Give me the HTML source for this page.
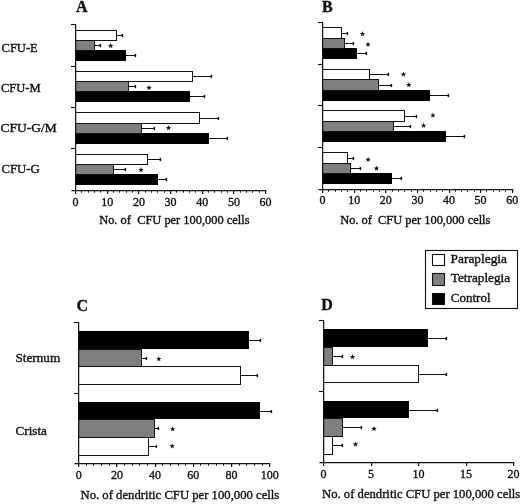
<!DOCTYPE html>
<html><head><meta charset="utf-8"><style>
html,body{margin:0;padding:0;background:#fff;}
body{width:520px;height:504px;overflow:hidden;}
svg{display:block;will-change:transform;}
text{font-family:"Liberation Serif", serif;fill:#111;stroke:#111;stroke-width:0.35px;}
</style></head><body>
<svg width="520" height="504" viewBox="0 0 520 504">
<rect x="0" y="0" width="520" height="504" fill="#fff"/>
<rect x="75.00" y="30.00" width="42.00" height="10.00" fill="#fff"/>
<rect x="75.00" y="40.00" width="20.00" height="10.00" fill="#7f7f7f"/>
<rect x="75.00" y="50.00" width="51.00" height="11.00" fill="#000"/>
<line x1="75.00" y1="30.50" x2="117.00" y2="30.50" stroke="#111" stroke-width="1.0"/>
<line x1="75.00" y1="40.50" x2="117.00" y2="40.50" stroke="#111" stroke-width="1.0"/>
<line x1="116.50" y1="30.00" x2="116.50" y2="41.00" stroke="#111" stroke-width="1.0"/>
<line x1="75.00" y1="40.50" x2="95.00" y2="40.50" stroke="#111" stroke-width="1.0"/>
<line x1="75.00" y1="50.50" x2="95.00" y2="50.50" stroke="#111" stroke-width="1.0"/>
<line x1="94.50" y1="40.00" x2="94.50" y2="51.00" stroke="#111" stroke-width="1.0"/>
<line x1="117.00" y1="35.50" x2="123.00" y2="35.50" stroke="#111" stroke-width="1.0"/>
<line x1="122.40" y1="33.90" x2="122.40" y2="37.10" stroke="#111" stroke-width="1.5"/>
<line x1="95.00" y1="45.50" x2="101.00" y2="45.50" stroke="#111" stroke-width="1.0"/>
<line x1="100.40" y1="43.90" x2="100.40" y2="47.10" stroke="#111" stroke-width="1.5"/>
<line x1="126.00" y1="55.50" x2="136.00" y2="55.50" stroke="#111" stroke-width="1.0"/>
<line x1="135.40" y1="53.90" x2="135.40" y2="57.10" stroke="#111" stroke-width="1.5"/>
<rect x="75.00" y="71.00" width="118.00" height="10.00" fill="#fff"/>
<rect x="75.00" y="81.00" width="54.00" height="10.00" fill="#7f7f7f"/>
<rect x="75.00" y="91.00" width="115.00" height="11.00" fill="#000"/>
<line x1="75.00" y1="71.50" x2="193.00" y2="71.50" stroke="#111" stroke-width="1.0"/>
<line x1="75.00" y1="81.50" x2="193.00" y2="81.50" stroke="#111" stroke-width="1.0"/>
<line x1="192.50" y1="71.00" x2="192.50" y2="82.00" stroke="#111" stroke-width="1.0"/>
<line x1="75.00" y1="81.50" x2="129.00" y2="81.50" stroke="#111" stroke-width="1.0"/>
<line x1="75.00" y1="91.50" x2="129.00" y2="91.50" stroke="#111" stroke-width="1.0"/>
<line x1="128.50" y1="81.00" x2="128.50" y2="92.00" stroke="#111" stroke-width="1.0"/>
<line x1="193.00" y1="76.50" x2="212.00" y2="76.50" stroke="#111" stroke-width="1.0"/>
<line x1="211.40" y1="74.90" x2="211.40" y2="78.10" stroke="#111" stroke-width="1.5"/>
<line x1="129.00" y1="86.50" x2="136.00" y2="86.50" stroke="#111" stroke-width="1.0"/>
<line x1="135.40" y1="84.90" x2="135.40" y2="88.10" stroke="#111" stroke-width="1.5"/>
<line x1="190.00" y1="96.50" x2="205.00" y2="96.50" stroke="#111" stroke-width="1.0"/>
<line x1="204.40" y1="94.90" x2="204.40" y2="98.10" stroke="#111" stroke-width="1.5"/>
<rect x="75.00" y="112.00" width="125.00" height="11.00" fill="#fff"/>
<rect x="75.00" y="123.00" width="67.00" height="10.00" fill="#7f7f7f"/>
<rect x="75.00" y="133.00" width="134.00" height="11.00" fill="#000"/>
<line x1="75.00" y1="112.50" x2="200.00" y2="112.50" stroke="#111" stroke-width="1.0"/>
<line x1="75.00" y1="123.50" x2="200.00" y2="123.50" stroke="#111" stroke-width="1.0"/>
<line x1="199.50" y1="112.00" x2="199.50" y2="124.00" stroke="#111" stroke-width="1.0"/>
<line x1="75.00" y1="123.50" x2="142.00" y2="123.50" stroke="#111" stroke-width="1.0"/>
<line x1="75.00" y1="133.50" x2="142.00" y2="133.50" stroke="#111" stroke-width="1.0"/>
<line x1="141.50" y1="123.00" x2="141.50" y2="134.00" stroke="#111" stroke-width="1.0"/>
<line x1="200.00" y1="118.50" x2="219.00" y2="118.50" stroke="#111" stroke-width="1.0"/>
<line x1="218.40" y1="116.90" x2="218.40" y2="120.10" stroke="#111" stroke-width="1.5"/>
<line x1="142.00" y1="128.50" x2="155.00" y2="128.50" stroke="#111" stroke-width="1.0"/>
<line x1="154.40" y1="126.90" x2="154.40" y2="130.10" stroke="#111" stroke-width="1.5"/>
<line x1="209.00" y1="138.50" x2="228.00" y2="138.50" stroke="#111" stroke-width="1.0"/>
<line x1="227.40" y1="136.90" x2="227.40" y2="140.10" stroke="#111" stroke-width="1.5"/>
<rect x="75.00" y="154.00" width="73.00" height="10.00" fill="#fff"/>
<rect x="75.00" y="164.00" width="39.00" height="10.00" fill="#7f7f7f"/>
<rect x="75.00" y="174.00" width="83.00" height="11.00" fill="#000"/>
<line x1="75.00" y1="154.50" x2="148.00" y2="154.50" stroke="#111" stroke-width="1.0"/>
<line x1="75.00" y1="164.50" x2="148.00" y2="164.50" stroke="#111" stroke-width="1.0"/>
<line x1="147.50" y1="154.00" x2="147.50" y2="165.00" stroke="#111" stroke-width="1.0"/>
<line x1="75.00" y1="164.50" x2="114.00" y2="164.50" stroke="#111" stroke-width="1.0"/>
<line x1="75.00" y1="174.50" x2="114.00" y2="174.50" stroke="#111" stroke-width="1.0"/>
<line x1="113.50" y1="164.00" x2="113.50" y2="175.00" stroke="#111" stroke-width="1.0"/>
<line x1="148.00" y1="159.50" x2="161.00" y2="159.50" stroke="#111" stroke-width="1.0"/>
<line x1="160.40" y1="157.90" x2="160.40" y2="161.10" stroke="#111" stroke-width="1.5"/>
<line x1="114.00" y1="169.50" x2="126.00" y2="169.50" stroke="#111" stroke-width="1.0"/>
<line x1="125.40" y1="167.90" x2="125.40" y2="171.10" stroke="#111" stroke-width="1.5"/>
<line x1="158.00" y1="179.50" x2="167.00" y2="179.50" stroke="#111" stroke-width="1.0"/>
<line x1="166.40" y1="177.90" x2="166.40" y2="181.10" stroke="#111" stroke-width="1.5"/>
<line x1="75.60" y1="24.00" x2="75.60" y2="191.00" stroke="#111" stroke-width="1.25"/>
<line x1="71.00" y1="24.50" x2="75.60" y2="24.50" stroke="#111" stroke-width="1.1"/>
<line x1="71.00" y1="66.50" x2="75.60" y2="66.50" stroke="#111" stroke-width="1.1"/>
<line x1="71.00" y1="107.50" x2="75.60" y2="107.50" stroke="#111" stroke-width="1.1"/>
<line x1="71.00" y1="148.50" x2="75.60" y2="148.50" stroke="#111" stroke-width="1.1"/>
<line x1="71.50" y1="190.50" x2="266.20" y2="190.50" stroke="#111" stroke-width="1.25"/>
<line x1="75.60" y1="190.50" x2="75.60" y2="194.10" stroke="#111" stroke-width="1.2"/>
<line x1="107.60" y1="190.50" x2="107.60" y2="194.10" stroke="#111" stroke-width="1.2"/>
<line x1="138.60" y1="190.50" x2="138.60" y2="194.10" stroke="#111" stroke-width="1.2"/>
<line x1="170.60" y1="190.50" x2="170.60" y2="194.10" stroke="#111" stroke-width="1.2"/>
<line x1="202.60" y1="190.50" x2="202.60" y2="194.10" stroke="#111" stroke-width="1.2"/>
<line x1="233.60" y1="190.50" x2="233.60" y2="194.10" stroke="#111" stroke-width="1.2"/>
<line x1="265.60" y1="190.50" x2="265.60" y2="194.10" stroke="#111" stroke-width="1.2"/>
<line x1="81.50" y1="190.50" x2="81.50" y2="192.70" stroke="#111" stroke-width="1.0"/>
<line x1="88.50" y1="190.50" x2="88.50" y2="192.70" stroke="#111" stroke-width="1.0"/>
<line x1="94.50" y1="190.50" x2="94.50" y2="192.70" stroke="#111" stroke-width="1.0"/>
<line x1="100.50" y1="190.50" x2="100.50" y2="192.70" stroke="#111" stroke-width="1.0"/>
<line x1="113.50" y1="190.50" x2="113.50" y2="192.70" stroke="#111" stroke-width="1.0"/>
<line x1="119.50" y1="190.50" x2="119.50" y2="192.70" stroke="#111" stroke-width="1.0"/>
<line x1="126.50" y1="190.50" x2="126.50" y2="192.70" stroke="#111" stroke-width="1.0"/>
<line x1="132.50" y1="190.50" x2="132.50" y2="192.70" stroke="#111" stroke-width="1.0"/>
<line x1="145.50" y1="190.50" x2="145.50" y2="192.70" stroke="#111" stroke-width="1.0"/>
<line x1="151.50" y1="190.50" x2="151.50" y2="192.70" stroke="#111" stroke-width="1.0"/>
<line x1="157.50" y1="190.50" x2="157.50" y2="192.70" stroke="#111" stroke-width="1.0"/>
<line x1="164.50" y1="190.50" x2="164.50" y2="192.70" stroke="#111" stroke-width="1.0"/>
<line x1="176.50" y1="190.50" x2="176.50" y2="192.70" stroke="#111" stroke-width="1.0"/>
<line x1="183.50" y1="190.50" x2="183.50" y2="192.70" stroke="#111" stroke-width="1.0"/>
<line x1="189.50" y1="190.50" x2="189.50" y2="192.70" stroke="#111" stroke-width="1.0"/>
<line x1="195.50" y1="190.50" x2="195.50" y2="192.70" stroke="#111" stroke-width="1.0"/>
<line x1="208.50" y1="190.50" x2="208.50" y2="192.70" stroke="#111" stroke-width="1.0"/>
<line x1="214.50" y1="190.50" x2="214.50" y2="192.70" stroke="#111" stroke-width="1.0"/>
<line x1="221.50" y1="190.50" x2="221.50" y2="192.70" stroke="#111" stroke-width="1.0"/>
<line x1="227.50" y1="190.50" x2="227.50" y2="192.70" stroke="#111" stroke-width="1.0"/>
<line x1="240.50" y1="190.50" x2="240.50" y2="192.70" stroke="#111" stroke-width="1.0"/>
<line x1="246.50" y1="190.50" x2="246.50" y2="192.70" stroke="#111" stroke-width="1.0"/>
<line x1="252.50" y1="190.50" x2="252.50" y2="192.70" stroke="#111" stroke-width="1.0"/>
<line x1="259.50" y1="190.50" x2="259.50" y2="192.70" stroke="#111" stroke-width="1.0"/>
<rect x="322.00" y="27.00" width="20.00" height="11.00" fill="#fff"/>
<rect x="322.00" y="38.00" width="23.00" height="10.00" fill="#7f7f7f"/>
<rect x="322.00" y="48.00" width="35.00" height="11.00" fill="#000"/>
<line x1="322.00" y1="27.50" x2="342.00" y2="27.50" stroke="#111" stroke-width="1.0"/>
<line x1="322.00" y1="38.50" x2="342.00" y2="38.50" stroke="#111" stroke-width="1.0"/>
<line x1="341.50" y1="27.00" x2="341.50" y2="39.00" stroke="#111" stroke-width="1.0"/>
<line x1="322.00" y1="38.50" x2="345.00" y2="38.50" stroke="#111" stroke-width="1.0"/>
<line x1="322.00" y1="48.50" x2="345.00" y2="48.50" stroke="#111" stroke-width="1.0"/>
<line x1="344.50" y1="38.00" x2="344.50" y2="49.00" stroke="#111" stroke-width="1.0"/>
<line x1="342.00" y1="33.50" x2="348.00" y2="33.50" stroke="#111" stroke-width="1.0"/>
<line x1="347.40" y1="31.90" x2="347.40" y2="35.10" stroke="#111" stroke-width="1.5"/>
<line x1="345.00" y1="43.50" x2="354.00" y2="43.50" stroke="#111" stroke-width="1.0"/>
<line x1="353.40" y1="41.90" x2="353.40" y2="45.10" stroke="#111" stroke-width="1.5"/>
<line x1="357.00" y1="53.50" x2="367.00" y2="53.50" stroke="#111" stroke-width="1.0"/>
<line x1="366.40" y1="51.90" x2="366.40" y2="55.10" stroke="#111" stroke-width="1.5"/>
<rect x="322.00" y="69.00" width="48.00" height="10.00" fill="#fff"/>
<rect x="322.00" y="79.00" width="57.00" height="11.00" fill="#7f7f7f"/>
<rect x="322.00" y="90.00" width="108.00" height="11.00" fill="#000"/>
<line x1="322.00" y1="69.50" x2="370.00" y2="69.50" stroke="#111" stroke-width="1.0"/>
<line x1="322.00" y1="79.50" x2="370.00" y2="79.50" stroke="#111" stroke-width="1.0"/>
<line x1="369.50" y1="69.00" x2="369.50" y2="80.00" stroke="#111" stroke-width="1.0"/>
<line x1="322.00" y1="79.50" x2="379.00" y2="79.50" stroke="#111" stroke-width="1.0"/>
<line x1="322.00" y1="90.50" x2="379.00" y2="90.50" stroke="#111" stroke-width="1.0"/>
<line x1="378.50" y1="79.00" x2="378.50" y2="91.00" stroke="#111" stroke-width="1.0"/>
<line x1="370.00" y1="74.50" x2="389.00" y2="74.50" stroke="#111" stroke-width="1.0"/>
<line x1="388.40" y1="72.90" x2="388.40" y2="76.10" stroke="#111" stroke-width="1.5"/>
<line x1="379.00" y1="85.50" x2="392.00" y2="85.50" stroke="#111" stroke-width="1.0"/>
<line x1="391.40" y1="83.90" x2="391.40" y2="87.10" stroke="#111" stroke-width="1.5"/>
<line x1="430.00" y1="95.50" x2="449.00" y2="95.50" stroke="#111" stroke-width="1.0"/>
<line x1="448.40" y1="93.90" x2="448.40" y2="97.10" stroke="#111" stroke-width="1.5"/>
<rect x="322.00" y="110.00" width="83.00" height="11.00" fill="#fff"/>
<rect x="322.00" y="121.00" width="72.00" height="10.00" fill="#7f7f7f"/>
<rect x="322.00" y="131.00" width="124.00" height="11.00" fill="#000"/>
<line x1="322.00" y1="110.50" x2="405.00" y2="110.50" stroke="#111" stroke-width="1.0"/>
<line x1="322.00" y1="121.50" x2="405.00" y2="121.50" stroke="#111" stroke-width="1.0"/>
<line x1="404.50" y1="110.00" x2="404.50" y2="122.00" stroke="#111" stroke-width="1.0"/>
<line x1="322.00" y1="121.50" x2="394.00" y2="121.50" stroke="#111" stroke-width="1.0"/>
<line x1="322.00" y1="131.50" x2="394.00" y2="131.50" stroke="#111" stroke-width="1.0"/>
<line x1="393.50" y1="121.00" x2="393.50" y2="132.00" stroke="#111" stroke-width="1.0"/>
<line x1="405.00" y1="116.50" x2="417.00" y2="116.50" stroke="#111" stroke-width="1.0"/>
<line x1="416.40" y1="114.90" x2="416.40" y2="118.10" stroke="#111" stroke-width="1.5"/>
<line x1="394.00" y1="126.50" x2="411.00" y2="126.50" stroke="#111" stroke-width="1.0"/>
<line x1="410.40" y1="124.90" x2="410.40" y2="128.10" stroke="#111" stroke-width="1.5"/>
<line x1="446.00" y1="136.50" x2="465.00" y2="136.50" stroke="#111" stroke-width="1.0"/>
<line x1="464.40" y1="134.90" x2="464.40" y2="138.10" stroke="#111" stroke-width="1.5"/>
<rect x="322.00" y="152.00" width="26.00" height="11.00" fill="#fff"/>
<rect x="322.00" y="163.00" width="29.00" height="10.00" fill="#7f7f7f"/>
<rect x="322.00" y="173.00" width="70.00" height="11.00" fill="#000"/>
<line x1="322.00" y1="152.50" x2="348.00" y2="152.50" stroke="#111" stroke-width="1.0"/>
<line x1="322.00" y1="163.50" x2="348.00" y2="163.50" stroke="#111" stroke-width="1.0"/>
<line x1="347.50" y1="152.00" x2="347.50" y2="164.00" stroke="#111" stroke-width="1.0"/>
<line x1="322.00" y1="163.50" x2="351.00" y2="163.50" stroke="#111" stroke-width="1.0"/>
<line x1="322.00" y1="173.50" x2="351.00" y2="173.50" stroke="#111" stroke-width="1.0"/>
<line x1="350.50" y1="163.00" x2="350.50" y2="174.00" stroke="#111" stroke-width="1.0"/>
<line x1="348.00" y1="158.50" x2="354.00" y2="158.50" stroke="#111" stroke-width="1.0"/>
<line x1="353.40" y1="156.90" x2="353.40" y2="160.10" stroke="#111" stroke-width="1.5"/>
<line x1="351.00" y1="168.50" x2="361.00" y2="168.50" stroke="#111" stroke-width="1.0"/>
<line x1="360.40" y1="166.90" x2="360.40" y2="170.10" stroke="#111" stroke-width="1.5"/>
<line x1="392.00" y1="178.50" x2="402.00" y2="178.50" stroke="#111" stroke-width="1.0"/>
<line x1="401.40" y1="176.90" x2="401.40" y2="180.10" stroke="#111" stroke-width="1.5"/>
<line x1="322.60" y1="22.00" x2="322.60" y2="190.00" stroke="#111" stroke-width="1.25"/>
<line x1="318.00" y1="22.50" x2="322.60" y2="22.50" stroke="#111" stroke-width="1.1"/>
<line x1="318.00" y1="64.50" x2="322.60" y2="64.50" stroke="#111" stroke-width="1.1"/>
<line x1="318.00" y1="105.50" x2="322.60" y2="105.50" stroke="#111" stroke-width="1.1"/>
<line x1="318.00" y1="147.50" x2="322.60" y2="147.50" stroke="#111" stroke-width="1.1"/>
<line x1="318.50" y1="189.50" x2="513.20" y2="189.50" stroke="#111" stroke-width="1.25"/>
<line x1="322.60" y1="189.50" x2="322.60" y2="193.10" stroke="#111" stroke-width="1.2"/>
<line x1="354.60" y1="189.50" x2="354.60" y2="193.10" stroke="#111" stroke-width="1.2"/>
<line x1="385.60" y1="189.50" x2="385.60" y2="193.10" stroke="#111" stroke-width="1.2"/>
<line x1="417.60" y1="189.50" x2="417.60" y2="193.10" stroke="#111" stroke-width="1.2"/>
<line x1="449.60" y1="189.50" x2="449.60" y2="193.10" stroke="#111" stroke-width="1.2"/>
<line x1="480.60" y1="189.50" x2="480.60" y2="193.10" stroke="#111" stroke-width="1.2"/>
<line x1="512.60" y1="189.50" x2="512.60" y2="193.10" stroke="#111" stroke-width="1.2"/>
<line x1="328.50" y1="189.50" x2="328.50" y2="191.70" stroke="#111" stroke-width="1.0"/>
<line x1="335.50" y1="189.50" x2="335.50" y2="191.70" stroke="#111" stroke-width="1.0"/>
<line x1="341.50" y1="189.50" x2="341.50" y2="191.70" stroke="#111" stroke-width="1.0"/>
<line x1="347.50" y1="189.50" x2="347.50" y2="191.70" stroke="#111" stroke-width="1.0"/>
<line x1="360.50" y1="189.50" x2="360.50" y2="191.70" stroke="#111" stroke-width="1.0"/>
<line x1="366.50" y1="189.50" x2="366.50" y2="191.70" stroke="#111" stroke-width="1.0"/>
<line x1="373.50" y1="189.50" x2="373.50" y2="191.70" stroke="#111" stroke-width="1.0"/>
<line x1="379.50" y1="189.50" x2="379.50" y2="191.70" stroke="#111" stroke-width="1.0"/>
<line x1="392.50" y1="189.50" x2="392.50" y2="191.70" stroke="#111" stroke-width="1.0"/>
<line x1="398.50" y1="189.50" x2="398.50" y2="191.70" stroke="#111" stroke-width="1.0"/>
<line x1="404.50" y1="189.50" x2="404.50" y2="191.70" stroke="#111" stroke-width="1.0"/>
<line x1="411.50" y1="189.50" x2="411.50" y2="191.70" stroke="#111" stroke-width="1.0"/>
<line x1="423.50" y1="189.50" x2="423.50" y2="191.70" stroke="#111" stroke-width="1.0"/>
<line x1="430.50" y1="189.50" x2="430.50" y2="191.70" stroke="#111" stroke-width="1.0"/>
<line x1="436.50" y1="189.50" x2="436.50" y2="191.70" stroke="#111" stroke-width="1.0"/>
<line x1="442.50" y1="189.50" x2="442.50" y2="191.70" stroke="#111" stroke-width="1.0"/>
<line x1="455.50" y1="189.50" x2="455.50" y2="191.70" stroke="#111" stroke-width="1.0"/>
<line x1="461.50" y1="189.50" x2="461.50" y2="191.70" stroke="#111" stroke-width="1.0"/>
<line x1="467.50" y1="189.50" x2="467.50" y2="191.70" stroke="#111" stroke-width="1.0"/>
<line x1="474.50" y1="189.50" x2="474.50" y2="191.70" stroke="#111" stroke-width="1.0"/>
<line x1="486.50" y1="189.50" x2="486.50" y2="191.70" stroke="#111" stroke-width="1.0"/>
<line x1="493.50" y1="189.50" x2="493.50" y2="191.70" stroke="#111" stroke-width="1.0"/>
<line x1="499.50" y1="189.50" x2="499.50" y2="191.70" stroke="#111" stroke-width="1.0"/>
<line x1="505.50" y1="189.50" x2="505.50" y2="191.70" stroke="#111" stroke-width="1.0"/>
<rect x="78.00" y="331.00" width="171.00" height="18.00" fill="#000"/>
<rect x="78.00" y="349.00" width="64.00" height="17.00" fill="#7f7f7f"/>
<rect x="78.00" y="366.00" width="163.00" height="18.00" fill="#fff"/>
<line x1="78.00" y1="349.50" x2="142.00" y2="349.50" stroke="#111" stroke-width="1.0"/>
<line x1="78.00" y1="366.50" x2="142.00" y2="366.50" stroke="#111" stroke-width="1.0"/>
<line x1="141.50" y1="349.00" x2="141.50" y2="367.00" stroke="#111" stroke-width="1.0"/>
<line x1="78.00" y1="366.50" x2="241.00" y2="366.50" stroke="#111" stroke-width="1.0"/>
<line x1="78.00" y1="384.50" x2="241.00" y2="384.50" stroke="#111" stroke-width="1.0"/>
<line x1="240.50" y1="366.00" x2="240.50" y2="385.00" stroke="#111" stroke-width="1.0"/>
<line x1="249.00" y1="340.50" x2="261.00" y2="340.50" stroke="#111" stroke-width="1.0"/>
<line x1="260.40" y1="338.90" x2="260.40" y2="342.10" stroke="#111" stroke-width="1.5"/>
<line x1="142.00" y1="358.50" x2="147.00" y2="358.50" stroke="#111" stroke-width="1.0"/>
<line x1="146.40" y1="356.90" x2="146.40" y2="360.10" stroke="#111" stroke-width="1.5"/>
<line x1="241.00" y1="375.50" x2="258.00" y2="375.50" stroke="#111" stroke-width="1.0"/>
<line x1="257.40" y1="373.90" x2="257.40" y2="377.10" stroke="#111" stroke-width="1.5"/>
<rect x="78.00" y="402.00" width="182.00" height="17.00" fill="#000"/>
<rect x="78.00" y="419.00" width="77.00" height="18.00" fill="#7f7f7f"/>
<rect x="78.00" y="437.00" width="71.00" height="18.00" fill="#fff"/>
<line x1="78.00" y1="419.50" x2="155.00" y2="419.50" stroke="#111" stroke-width="1.0"/>
<line x1="78.00" y1="437.50" x2="155.00" y2="437.50" stroke="#111" stroke-width="1.0"/>
<line x1="154.50" y1="419.00" x2="154.50" y2="438.00" stroke="#111" stroke-width="1.0"/>
<line x1="78.00" y1="437.50" x2="149.00" y2="437.50" stroke="#111" stroke-width="1.0"/>
<line x1="78.00" y1="455.50" x2="149.00" y2="455.50" stroke="#111" stroke-width="1.0"/>
<line x1="148.50" y1="437.00" x2="148.50" y2="456.00" stroke="#111" stroke-width="1.0"/>
<line x1="260.00" y1="411.50" x2="272.00" y2="411.50" stroke="#111" stroke-width="1.0"/>
<line x1="271.40" y1="409.90" x2="271.40" y2="413.10" stroke="#111" stroke-width="1.5"/>
<line x1="155.00" y1="428.50" x2="159.00" y2="428.50" stroke="#111" stroke-width="1.0"/>
<line x1="158.40" y1="426.90" x2="158.40" y2="430.10" stroke="#111" stroke-width="1.5"/>
<line x1="149.00" y1="446.50" x2="157.00" y2="446.50" stroke="#111" stroke-width="1.0"/>
<line x1="156.40" y1="444.90" x2="156.40" y2="448.10" stroke="#111" stroke-width="1.5"/>
<line x1="78.60" y1="322.00" x2="78.60" y2="464.00" stroke="#111" stroke-width="1.25"/>
<line x1="74.00" y1="322.50" x2="78.60" y2="322.50" stroke="#111" stroke-width="1.1"/>
<line x1="74.00" y1="393.50" x2="78.60" y2="393.50" stroke="#111" stroke-width="1.1"/>
<line x1="74.50" y1="463.50" x2="270.20" y2="463.50" stroke="#111" stroke-width="1.25"/>
<line x1="78.60" y1="463.50" x2="78.60" y2="467.10" stroke="#111" stroke-width="1.2"/>
<line x1="116.60" y1="463.50" x2="116.60" y2="467.10" stroke="#111" stroke-width="1.2"/>
<line x1="155.60" y1="463.50" x2="155.60" y2="467.10" stroke="#111" stroke-width="1.2"/>
<line x1="193.60" y1="463.50" x2="193.60" y2="467.10" stroke="#111" stroke-width="1.2"/>
<line x1="231.60" y1="463.50" x2="231.60" y2="467.10" stroke="#111" stroke-width="1.2"/>
<line x1="269.60" y1="463.50" x2="269.60" y2="467.10" stroke="#111" stroke-width="1.2"/>
<line x1="86.50" y1="463.50" x2="86.50" y2="465.70" stroke="#111" stroke-width="1.0"/>
<line x1="93.50" y1="463.50" x2="93.50" y2="465.70" stroke="#111" stroke-width="1.0"/>
<line x1="101.50" y1="463.50" x2="101.50" y2="465.70" stroke="#111" stroke-width="1.0"/>
<line x1="109.50" y1="463.50" x2="109.50" y2="465.70" stroke="#111" stroke-width="1.0"/>
<line x1="124.50" y1="463.50" x2="124.50" y2="465.70" stroke="#111" stroke-width="1.0"/>
<line x1="132.50" y1="463.50" x2="132.50" y2="465.70" stroke="#111" stroke-width="1.0"/>
<line x1="139.50" y1="463.50" x2="139.50" y2="465.70" stroke="#111" stroke-width="1.0"/>
<line x1="147.50" y1="463.50" x2="147.50" y2="465.70" stroke="#111" stroke-width="1.0"/>
<line x1="162.50" y1="463.50" x2="162.50" y2="465.70" stroke="#111" stroke-width="1.0"/>
<line x1="170.50" y1="463.50" x2="170.50" y2="465.70" stroke="#111" stroke-width="1.0"/>
<line x1="178.50" y1="463.50" x2="178.50" y2="465.70" stroke="#111" stroke-width="1.0"/>
<line x1="185.50" y1="463.50" x2="185.50" y2="465.70" stroke="#111" stroke-width="1.0"/>
<line x1="200.50" y1="463.50" x2="200.50" y2="465.70" stroke="#111" stroke-width="1.0"/>
<line x1="208.50" y1="463.50" x2="208.50" y2="465.70" stroke="#111" stroke-width="1.0"/>
<line x1="216.50" y1="463.50" x2="216.50" y2="465.70" stroke="#111" stroke-width="1.0"/>
<line x1="223.50" y1="463.50" x2="223.50" y2="465.70" stroke="#111" stroke-width="1.0"/>
<line x1="239.50" y1="463.50" x2="239.50" y2="465.70" stroke="#111" stroke-width="1.0"/>
<line x1="246.50" y1="463.50" x2="246.50" y2="465.70" stroke="#111" stroke-width="1.0"/>
<line x1="254.50" y1="463.50" x2="254.50" y2="465.70" stroke="#111" stroke-width="1.0"/>
<line x1="262.50" y1="463.50" x2="262.50" y2="465.70" stroke="#111" stroke-width="1.0"/>
<rect x="323.00" y="329.00" width="105.00" height="18.00" fill="#000"/>
<rect x="323.00" y="347.00" width="10.00" height="18.00" fill="#7f7f7f"/>
<rect x="323.00" y="365.00" width="96.00" height="17.00" fill="#fff"/>
<line x1="323.00" y1="347.50" x2="333.00" y2="347.50" stroke="#111" stroke-width="1.0"/>
<line x1="323.00" y1="365.50" x2="333.00" y2="365.50" stroke="#111" stroke-width="1.0"/>
<line x1="332.50" y1="347.00" x2="332.50" y2="366.00" stroke="#111" stroke-width="1.0"/>
<line x1="323.00" y1="365.50" x2="419.00" y2="365.50" stroke="#111" stroke-width="1.0"/>
<line x1="323.00" y1="382.50" x2="419.00" y2="382.50" stroke="#111" stroke-width="1.0"/>
<line x1="418.50" y1="365.00" x2="418.50" y2="383.00" stroke="#111" stroke-width="1.0"/>
<line x1="428.00" y1="338.50" x2="447.00" y2="338.50" stroke="#111" stroke-width="1.0"/>
<line x1="446.40" y1="336.90" x2="446.40" y2="340.10" stroke="#111" stroke-width="1.5"/>
<line x1="333.00" y1="356.50" x2="343.00" y2="356.50" stroke="#111" stroke-width="1.0"/>
<line x1="342.40" y1="354.90" x2="342.40" y2="358.10" stroke="#111" stroke-width="1.5"/>
<line x1="419.00" y1="374.50" x2="447.00" y2="374.50" stroke="#111" stroke-width="1.0"/>
<line x1="446.40" y1="372.90" x2="446.40" y2="376.10" stroke="#111" stroke-width="1.5"/>
<rect x="323.00" y="401.00" width="86.00" height="17.00" fill="#000"/>
<rect x="323.00" y="418.00" width="20.00" height="18.00" fill="#7f7f7f"/>
<rect x="323.00" y="436.00" width="10.00" height="18.00" fill="#fff"/>
<line x1="323.00" y1="418.50" x2="343.00" y2="418.50" stroke="#111" stroke-width="1.0"/>
<line x1="323.00" y1="436.50" x2="343.00" y2="436.50" stroke="#111" stroke-width="1.0"/>
<line x1="342.50" y1="418.00" x2="342.50" y2="437.00" stroke="#111" stroke-width="1.0"/>
<line x1="323.00" y1="436.50" x2="333.00" y2="436.50" stroke="#111" stroke-width="1.0"/>
<line x1="323.00" y1="454.50" x2="333.00" y2="454.50" stroke="#111" stroke-width="1.0"/>
<line x1="332.50" y1="436.00" x2="332.50" y2="455.00" stroke="#111" stroke-width="1.0"/>
<line x1="409.00" y1="410.50" x2="438.00" y2="410.50" stroke="#111" stroke-width="1.0"/>
<line x1="437.40" y1="408.90" x2="437.40" y2="412.10" stroke="#111" stroke-width="1.5"/>
<line x1="343.00" y1="427.50" x2="362.00" y2="427.50" stroke="#111" stroke-width="1.0"/>
<line x1="361.40" y1="425.90" x2="361.40" y2="429.10" stroke="#111" stroke-width="1.5"/>
<line x1="333.00" y1="445.50" x2="343.00" y2="445.50" stroke="#111" stroke-width="1.0"/>
<line x1="342.40" y1="443.90" x2="342.40" y2="447.10" stroke="#111" stroke-width="1.5"/>
<line x1="323.60" y1="320.00" x2="323.60" y2="463.00" stroke="#111" stroke-width="1.25"/>
<line x1="319.00" y1="320.50" x2="323.60" y2="320.50" stroke="#111" stroke-width="1.1"/>
<line x1="319.00" y1="391.50" x2="323.60" y2="391.50" stroke="#111" stroke-width="1.1"/>
<line x1="319.50" y1="462.50" x2="514.20" y2="462.50" stroke="#111" stroke-width="1.25"/>
<line x1="323.60" y1="462.50" x2="323.60" y2="466.10" stroke="#111" stroke-width="1.2"/>
<line x1="371.60" y1="462.50" x2="371.60" y2="466.10" stroke="#111" stroke-width="1.2"/>
<line x1="418.60" y1="462.50" x2="418.60" y2="466.10" stroke="#111" stroke-width="1.2"/>
<line x1="466.60" y1="462.50" x2="466.60" y2="466.10" stroke="#111" stroke-width="1.2"/>
<line x1="513.60" y1="462.50" x2="513.60" y2="466.10" stroke="#111" stroke-width="1.2"/>
<polygon points="110.70,42.90 111.38,44.87 113.46,44.90 111.79,46.16 112.40,48.15 110.70,46.95 109.00,48.15 109.61,46.16 107.94,44.90 110.02,44.87" fill="#111"/>
<polygon points="149.00,84.90 149.68,86.87 151.76,86.90 150.09,88.16 150.70,90.15 149.00,88.95 147.30,90.15 147.91,88.16 146.24,86.90 148.32,86.87" fill="#111"/>
<polygon points="168.50,125.10 169.18,127.07 171.26,127.10 169.59,128.36 170.20,130.35 168.50,129.15 166.80,130.35 167.41,128.36 165.74,127.10 167.82,127.07" fill="#111"/>
<polygon points="141.00,167.10 141.68,169.07 143.76,169.10 142.09,170.36 142.70,172.35 141.00,171.15 139.30,172.35 139.91,170.36 138.24,169.10 140.32,169.07" fill="#111"/>
<polygon points="362.50,31.10 363.18,33.07 365.26,33.10 363.59,34.36 364.20,36.35 362.50,35.15 360.80,36.35 361.41,34.36 359.74,33.10 361.82,33.07" fill="#111"/>
<polygon points="368.00,41.60 368.68,43.57 370.76,43.60 369.09,44.86 369.70,46.85 368.00,45.65 366.30,46.85 366.91,44.86 365.24,43.60 367.32,43.57" fill="#111"/>
<polygon points="403.50,71.50 404.18,73.47 406.26,73.50 404.59,74.76 405.20,76.75 403.50,75.55 401.80,76.75 402.41,74.76 400.74,73.50 402.82,73.47" fill="#111"/>
<polygon points="408.80,82.10 409.48,84.07 411.56,84.10 409.89,85.36 410.50,87.35 408.80,86.15 407.10,87.35 407.71,85.36 406.04,84.10 408.12,84.07" fill="#111"/>
<polygon points="432.90,112.50 433.58,114.47 435.66,114.50 433.99,115.76 434.60,117.75 432.90,116.55 431.20,117.75 431.81,115.76 430.14,114.50 432.22,114.47" fill="#111"/>
<polygon points="423.60,122.70 424.28,124.67 426.36,124.70 424.69,125.96 425.30,127.95 423.60,126.75 421.90,127.95 422.51,125.96 420.84,124.70 422.92,124.67" fill="#111"/>
<polygon points="368.10,156.80 368.78,158.77 370.86,158.80 369.19,160.06 369.80,162.05 368.10,160.85 366.40,162.05 367.01,160.06 365.34,158.80 367.42,158.77" fill="#111"/>
<polygon points="376.50,165.60 377.18,167.57 379.26,167.60 377.59,168.86 378.20,170.85 376.50,169.65 374.80,170.85 375.41,168.86 373.74,167.60 375.82,167.57" fill="#111"/>
<polygon points="158.80,356.10 159.48,358.07 161.56,358.10 159.89,359.36 160.50,361.35 158.80,360.15 157.10,361.35 157.71,359.36 156.04,358.10 158.12,358.07" fill="#111"/>
<polygon points="172.70,426.30 173.38,428.27 175.46,428.30 173.79,429.56 174.40,431.55 172.70,430.35 171.00,431.55 171.61,429.56 169.94,428.30 172.02,428.27" fill="#111"/>
<polygon points="172.20,443.20 172.88,445.17 174.96,445.20 173.29,446.46 173.90,448.45 172.20,447.25 170.50,448.45 171.11,446.46 169.44,445.20 171.52,445.17" fill="#111"/>
<polygon points="352.50,354.10 353.18,356.07 355.26,356.10 353.59,357.36 354.20,359.35 352.50,358.15 350.80,359.35 351.41,357.36 349.74,356.10 351.82,356.07" fill="#111"/>
<polygon points="374.00,425.90 374.68,427.87 376.76,427.90 375.09,429.16 375.70,431.15 374.00,429.95 372.30,431.15 372.91,429.16 371.24,427.90 373.32,427.87" fill="#111"/>
<polygon points="355.50,441.40 356.18,443.37 358.26,443.40 356.59,444.66 357.20,446.65 355.50,445.45 353.80,446.65 354.41,444.66 352.74,443.40 354.82,443.37" fill="#111"/>
<text x="75.60" y="205.60" font-size="12" text-anchor="middle">0</text>
<text x="322.60" y="204.10" font-size="12" text-anchor="middle">0</text>
<text x="107.27" y="205.60" font-size="12" text-anchor="middle">10</text>
<text x="354.20" y="204.10" font-size="12" text-anchor="middle">10</text>
<text x="138.94" y="205.60" font-size="12" text-anchor="middle">20</text>
<text x="385.80" y="204.10" font-size="12" text-anchor="middle">20</text>
<text x="170.61" y="205.60" font-size="12" text-anchor="middle">30</text>
<text x="417.40" y="204.10" font-size="12" text-anchor="middle">30</text>
<text x="202.28" y="205.60" font-size="12" text-anchor="middle">40</text>
<text x="449.00" y="204.10" font-size="12" text-anchor="middle">40</text>
<text x="233.95" y="205.60" font-size="12" text-anchor="middle">50</text>
<text x="480.60" y="204.10" font-size="12" text-anchor="middle">50</text>
<text x="265.62" y="205.60" font-size="12" text-anchor="middle">60</text>
<text x="512.20" y="204.10" font-size="12" text-anchor="middle">60</text>
<text x="78.70" y="478.70" font-size="12" text-anchor="middle">0</text>
<text x="116.90" y="478.70" font-size="12" text-anchor="middle">20</text>
<text x="155.10" y="478.70" font-size="12" text-anchor="middle">40</text>
<text x="193.30" y="478.70" font-size="12" text-anchor="middle">60</text>
<text x="231.50" y="478.70" font-size="12" text-anchor="middle">80</text>
<text x="269.70" y="478.70" font-size="12" text-anchor="middle">100</text>
<text x="323.50" y="477.60" font-size="12" text-anchor="middle">0</text>
<text x="371.00" y="477.60" font-size="12" text-anchor="middle">5</text>
<text x="418.50" y="477.60" font-size="12" text-anchor="middle">10</text>
<text x="466.00" y="477.60" font-size="12" text-anchor="middle">15</text>
<text x="513.50" y="477.60" font-size="12" text-anchor="middle">20</text>
<text x="99.20" y="224.20" font-size="12" textLength="150.40" lengthAdjust="spacingAndGlyphs">No. of &#160;CFU per 100,000 cells</text>
<text x="340.20" y="224.00" font-size="12" textLength="150.20" lengthAdjust="spacingAndGlyphs">No. of &#160;CFU per 100,000 cells</text>
<text x="80.50" y="498.80" font-size="12" textLength="198.80" lengthAdjust="spacingAndGlyphs">No. of dendritic CFU per 100,000 cells</text>
<text x="322.10" y="498.20" font-size="12" textLength="198.10" lengthAdjust="spacingAndGlyphs">No. of dendritic CFU per 100,000 cells</text>
<text x="1.50" y="52.00" font-size="12" textLength="36.30" lengthAdjust="spacingAndGlyphs">CFU-E</text>
<text x="1.00" y="91.50" font-size="12" textLength="39.60" lengthAdjust="spacingAndGlyphs">CFU-M</text>
<text x="0.60" y="131.80" font-size="12" textLength="56.00" lengthAdjust="spacingAndGlyphs">CFU-G/M</text>
<text x="1.50" y="173.10" font-size="12" textLength="38.20" lengthAdjust="spacingAndGlyphs">CFU-G</text>
<text x="15.50" y="362.40" font-size="12" textLength="44.70" lengthAdjust="spacingAndGlyphs">Sternum</text>
<text x="15.50" y="434.80" font-size="12" textLength="31.40" lengthAdjust="spacingAndGlyphs">Crista</text>
<text x="76.10" y="11.80" font-size="16" font-weight="bold">A</text>
<text x="322.00" y="11.90" font-size="16" font-weight="bold">B</text>
<text x="76.50" y="311.10" font-size="16" font-weight="bold">C</text>
<text x="321.20" y="310.00" font-size="16" font-weight="bold">D</text>
<rect x="425.50" y="250.50" width="92.00" height="58.00" fill="#fff" stroke="#111" stroke-width="1.1"/>
<rect x="432.50" y="254.50" width="12.00" height="11.00" fill="#fff" stroke="#111" stroke-width="1.1"/>
<rect x="432.50" y="273.50" width="12.00" height="12.00" fill="#7f7f7f" stroke="#111" stroke-width="1.1"/>
<rect x="432.50" y="293.50" width="12.00" height="11.00" fill="#000" stroke="#111" stroke-width="1.1"/>
<text x="450.60" y="263.40" font-size="12" textLength="56.40" lengthAdjust="spacingAndGlyphs">Paraplegia</text>
<text x="450.80" y="282.40" font-size="12" textLength="59.30" lengthAdjust="spacingAndGlyphs">Tetraplegia</text>
<text x="450.80" y="302.40" font-size="12" textLength="39.70" lengthAdjust="spacingAndGlyphs">Control</text>
</svg>
</body></html>
